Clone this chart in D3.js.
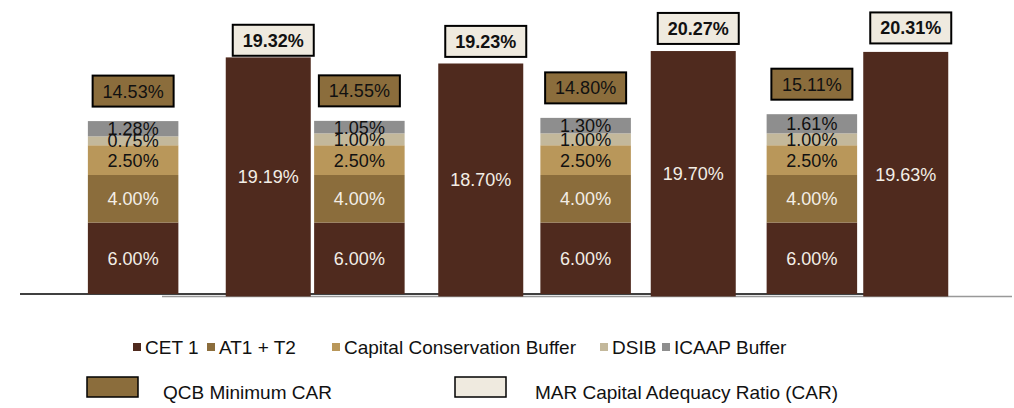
<!DOCTYPE html>
<html>
<head>
<meta charset="utf-8">
<script src="https://cdn.jsdelivr.net/npm/d3@7"></script>
<style>
  body { margin: 0; background: #fff; }
  svg text { font-family: 'Liberation Sans', Arial, sans-serif; }
</style>
</head>
<body>
<svg id="chart" width="1014" height="408"></svg>
<script>
// data
const periods = ['P1', 'P2', 'P3', 'P4'];
const cet1 = [6.00, 6.00, 6.00, 6.00];
const at1t2 = [4.00, 4.00, 4.00, 4.00];
const ccb = [2.50, 2.50, 2.50, 2.50];
const dsib = [0.75, 1.00, 1.00, 1.00];
const icaap = [1.28, 1.05, 1.30, 1.61];
const qcbMin = [14.53, 14.55, 14.80, 15.11];
const carActual = [19.19, 18.70, 19.70, 19.63];
const marCar = [19.32, 19.23, 20.27, 20.31];

const seriesNames = ['CET 1', 'AT1 + T2', 'Capital Conservation Buffer', 'DSIB', 'ICAAP Buffer'];
const seriesColors = ['#4f2a1e', '#8b6d3c', '#b9975a', '#c3b89b', '#8e8e8e'];
const labelColors = ['#f3eee6', '#f3eee6', '#111', '#111', '#111'];

const svg = d3.select('#chart');
const fmt = v => v.toFixed(2) + '%';

// requirement stacks and actual CAR bars sit on two overlaid plot areas
const xReq = d3.scaleBand().domain(periods).range([20, 925]).paddingInner(0.6).paddingOuter(0.3);
const xCar = d3.scaleBand().domain(periods).range([162, 1012]).paddingInner(0.6).paddingOuter(0.3);
const yReq = d3.scaleLinear().domain([0, 20]).range([294, 294 - 238]);
const yCar = d3.scaleLinear().domain([0, 20]).range([296.5, 296.5 - 249.2]);

// baselines
svg.append('line')
  .attr('x1', 162).attr('x2', 1012).attr('y1', 296.5).attr('y2', 296.5)
  .attr('stroke', '#999').attr('stroke-width', 1.5);
svg.append('line')
  .attr('x1', 20).attr('x2', 925).attr('y1', 294).attr('y2', 294)
  .attr('stroke', '#000').attr('stroke-width', 1.5);

const table = periods.map((p, i) => ({
  period: p,
  cet1: cet1[i], at1t2: at1t2[i], ccb: ccb[i], dsib: dsib[i], icaap: icaap[i]
}));
const keys = ['cet1', 'at1t2', 'ccb', 'dsib', 'icaap'];
const stacked = d3.stack().keys(keys)(table);

const layers = svg.append('g').selectAll('g')
  .data(stacked)
  .join('g')
  .attr('fill', (d, i) => seriesColors[i]);

layers.selectAll('rect')
  .data(d => d)
  .join('rect')
  .attr('x', d => xReq(d.data.period))
  .attr('width', xReq.bandwidth())
  .attr('y', d => yReq(d[1]))
  .attr('height', d => yReq(d[0]) - yReq(d[1]));

stacked.forEach((layer, li) => {
  svg.append('g').selectAll('text')
    .data(layer)
    .join('text')
    .attr('x', d => xReq(d.data.period) + xReq.bandwidth() / 2)
    .attr('y', d => (yReq(d[0]) + yReq(d[1])) / 2)
    .attr('dy', '0.36em')
    .attr('text-anchor', 'middle')
    .style('font-size', '18px')
    .style('fill', labelColors[li])
    .text(d => fmt(d[1] - d[0]));
});

// actual CAR bars
svg.append('g').selectAll('rect')
  .data(carActual)
  .join('rect')
  .attr('x', (d, i) => xCar(periods[i]))
  .attr('width', xCar.bandwidth())
  .attr('y', d => yCar(d))
  .attr('height', d => yCar(0) - yCar(d))
  .attr('fill', seriesColors[0]);

svg.append('g').selectAll('text')
  .data(carActual)
  .join('text')
  .attr('x', (d, i) => xCar(periods[i]) + xCar.bandwidth() / 2)
  .attr('y', d => (yCar(0) + yCar(d)) / 2)
  .attr('dy', '0.36em')
  .attr('text-anchor', 'middle')
  .style('font-size', '18px')
  .style('fill', '#f3eee6')
  .text(fmt);

// QCB minimum boxes
const boxW = 81, boxH = 31;
const qcbG = svg.append('g').selectAll('g')
  .data(qcbMin)
  .join('g')
  .attr('transform', (d, i) =>
    `translate(${xReq(periods[i]) + xReq.bandwidth() / 2}, ${yReq(d) - 14.5 - boxH / 2})`);
qcbG.append('rect')
  .attr('x', -boxW / 2).attr('y', -boxH / 2)
  .attr('width', boxW).attr('height', boxH)
  .attr('fill', seriesColors[1]).attr('stroke', '#000').attr('stroke-width', 2);
qcbG.append('text')
  .attr('text-anchor', 'middle').attr('dy', '0.36em')
  .style('font-size', '18px').style('fill', '#111')
  .text(fmt);

// MAR CAR boxes
const marG = svg.append('g').selectAll('g')
  .data(marCar)
  .join('g')
  .attr('transform', (d, i) =>
    `translate(${xCar(periods[i]) + xCar.bandwidth() / 2 + 5}, ${yCar(d) - boxH / 2})`);
marG.append('rect')
  .attr('x', -boxW / 2).attr('y', -boxH / 2)
  .attr('width', boxW).attr('height', boxH)
  .attr('fill', '#efeadf').attr('stroke', '#000').attr('stroke-width', 2);
marG.append('text')
  .attr('text-anchor', 'middle').attr('dy', '0.36em')
  .style('font-size', '18px').style('font-weight', 'bold').style('fill', '#111')
  .text(fmt);

// legend row 1
const legendX = [133, 207, 332, 600, 662];
const leg = svg.append('g').selectAll('g')
  .data(seriesNames)
  .join('g')
  .attr('transform', (d, i) => `translate(${legendX[i]}, 347)`);
leg.append('rect')
  .attr('x', 0).attr('y', -4).attr('width', 8).attr('height', 8)
  .attr('fill', (d, i) => seriesColors[i]);
leg.append('text')
  .attr('x', 12).attr('dy', '0.36em')
  .style('font-size', '19px').style('fill', '#111')
  .text(d => d);

// legend row 2
const boxLegend = [
  { x: 87, name: 'QCB Minimum CAR', fill: seriesColors[1], tx: 163 },
  { x: 455, name: 'MAR Capital Adequacy Ratio (CAR)', fill: '#efeadf', tx: 535 }
];
boxLegend.forEach(b => {
  svg.append('rect')
    .attr('x', b.x).attr('y', 377).attr('width', 51).attr('height', 20)
    .attr('fill', b.fill).attr('stroke', '#000').attr('stroke-width', 1.5);
  svg.append('text')
    .attr('x', b.tx).attr('y', 392).attr('dy', '0.36em')
    .style('font-size', '19px').style('fill', '#111')
    .text(b.name);
});
</script>
</body>
</html>
